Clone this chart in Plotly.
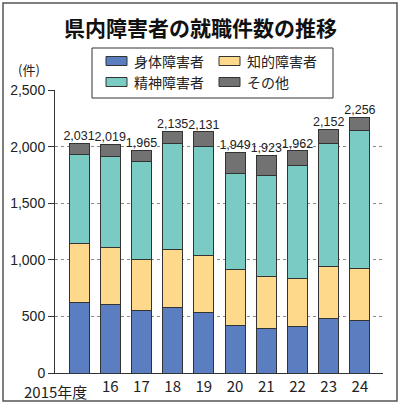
import plotly.graph_objects as go

# 年度 (fiscal years)
years = ["2015", "16", "17", "18", "19", "20", "21", "22", "23", "24"]
totals = [2031, 2019, 1965, 2135, 2131, 1949, 1923, 1962, 2152, 2256]

# values
physical = [623, 602, 556, 582, 535, 423, 397, 411, 479, 467]    # 身体障害者
intellect = [524, 509, 446, 508, 500, 488, 452, 421, 459, 453]   # 知的障害者
mental = [785, 799, 864, 939, 965, 853, 894, 998, 1089, 1226]     # 精神障害者
other = [99, 109, 99, 106, 131, 185, 180, 132, 125, 110]          # その他

y_ticks = [0, 500, 1000, 1500, 2000, 2500]

series = [
    ("身体障害者", physical, "#5b7ec0"),
    ("知的障害者", intellect, "#fed98b"),
    ("精神障害者", mental, "#79cbc3"),
    ("その他", other, "#727272"),
]

FONT = "Noto Sans CJK JP"
NUM_FONT = "Liberation Sans"
W, H = 400, 405
L, R, T, B = 55, 17, 90, 32
PW, PH = W - L - R, H - T - B


def px(x):
    return (x - L) / PW


def py(y):
    return (H - B - y) / PH


fig = go.Figure()
for name, vals, col in series:
    fig.add_trace(go.Bar(
        x=list(range(len(years))), y=vals, name=name, width=0.64,
        marker=dict(color=col, line=dict(color="#333333", width=1)),
        showlegend=False, hoverinfo="y+name",
    ))

fig.add_trace(go.Scatter(
    x=list(range(len(years))), y=totals, mode="text",
    text=[f"{v:,}" for v in totals], textposition="top center",
    textfont=dict(family=NUM_FONT, size=12.5, color="#222"),
    showlegend=False, hoverinfo="skip",
))

# legend box drawn by hand (2 x 2 layout)
shapes = [
    dict(type="rect", xref="paper", yref="paper", x0=px(3), x1=px(397), y0=py(401), y1=py(3),
         line=dict(color="#555", width=1.5), fillcolor="rgba(0,0,0,0)", layer="above"),
    dict(type="rect", xref="paper", yref="paper", x0=px(92), x1=px(333), y0=py(98), y1=py(48),
         line=dict(color="#333", width=1), fillcolor="white", layer="above"),
]
annotations = []
cols = [106, 219]
rows = [61, 82]
for i, (name, vals, col) in enumerate(series):
    cx = cols[i % 2]
    cy = rows[i // 2]
    shapes.append(dict(type="rect", xref="paper", yref="paper", x0=px(cx), x1=px(cx + 21),
                       y0=py(cy + 4.5), y1=py(cy - 4.5), line=dict(color="#333", width=1),
                       fillcolor=col, layer="above"))
    annotations.append(dict(text=name, xref="paper", yref="paper", x=px(cx + 26), y=py(cy),
                            xanchor="left", yanchor="middle", showarrow=False,
                            font=dict(family=FONT, size=14, color="#222")))

annotations += [
    dict(text="<b>県内障害者の就職件数の推移</b>", xref="paper", yref="paper",
         x=px(200), y=py(27), xanchor="center", yanchor="middle", showarrow=False,
         font=dict(family=FONT, size=21, color="#111")),
    dict(text="(件)", xref="paper", yref="paper", x=px(29), y=py(70),
         xanchor="center", yanchor="middle", showarrow=False,
         font=dict(family=FONT, size=13, color="#222")),
    dict(text="2015年度", xref="paper", yref="paper", x=px(89), y=py(391),
         xanchor="right", yanchor="middle", showarrow=False,
         font=dict(family=FONT, size=15, color="#222")),
]

fig.update_layout(
    width=W, height=H, margin=dict(l=L, r=R, t=T, b=B, autoexpand=False),
    paper_bgcolor="white", plot_bgcolor="white",
    barmode="stack", shapes=shapes, annotations=annotations,
    font=dict(family=FONT, color="#222"),
)
fig.update_xaxes(
    range=[-0.77, 9.74], tickvals=list(range(len(years))),
    ticktext=[""] + years[1:], ticks="", showline=True, linecolor="#333", linewidth=1,
    showgrid=False, zeroline=False, tickfont=dict(size=15, family=FONT),
    automargin=False,
)
fig.update_yaxes(
    range=[0, 2500], tickvals=y_ticks, ticktext=[f"{v:,}" for v in y_ticks],
    ticks="outside", ticklen=6, tickcolor="#333", showline=True, linecolor="#333", linewidth=1,
    showgrid=True, gridcolor="#888", griddash="dot", gridwidth=1, zeroline=False,
    tickfont=dict(size=14, family=NUM_FONT), automargin=False,
)

fig.write_html("out.html", config={"displayModeBar": False},
               post_script="document.body.style.margin='0';")
